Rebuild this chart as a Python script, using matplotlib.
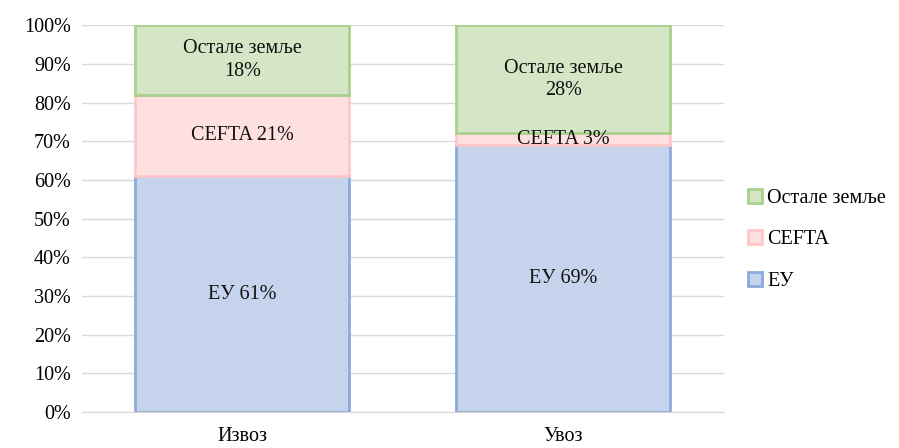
import matplotlib.pyplot as plt
import numpy as np

plt.rcParams['font.family'] = ['Liberation Serif', 'DejaVu Serif']

kategorije = ["Извоз", "Увоз"]
serije = ["ЕУ", "CEFTA", "Остале земље"]
eu = [61, 69]
cefta = [21, 3]
ostale = [18, 28]

etikete = [
    ["ЕУ 61%", "ЕУ 69%"],
    ["CEFTA 21%", "CEFTA 3%"],
    ["Остале земље\n18%", "Остале земље\n28%"],
]

boje = ["#C5D3EC", "#FFE0E0", "#D5E6C6"]
ivice = ["#8EA9DB", "#FFC7C7", "#A9D18E"]

fig = plt.figure(figsize=(8.99, 4.48), dpi=100)
ax = fig.add_axes([0.091, 0.080, 0.714, 0.864])

x = np.arange(len(kategorije))
dno = np.zeros(len(kategorije))
for i, vrednosti in enumerate([eu, cefta, ostale]):
    vr = np.array(vrednosti, dtype=float)
    ax.bar(x, vr, bottom=dno, width=0.667, color=boje[i], edgecolor=ivice[i],
           linewidth=2, label=serije[i], zorder=2)
    for j in range(len(x)):
        ax.text(x[j], dno[j] + vr[j] / 2, etikete[i][j], ha="center", va="center",
                fontsize=14.5, color="#111111", zorder=3, linespacing=1.25)
    dno += vr

ax.set_xlim(-0.5, 1.5)
ax.set_ylim(0, 100)
ax.set_yticks(range(0, 101, 10))
ax.set_yticklabels([f"{v}%" for v in range(0, 101, 10)], fontsize=14.5)
ax.set_xticks(x)
ax.set_xticklabels(kategorije, fontsize=14.5)
ax.tick_params(axis="both", length=0, pad=8)
ax.tick_params(axis="x", pad=11)
ax.grid(axis="y", color="#D9D9D9", linewidth=1, zorder=0)
for s in ["top", "right", "left"]:
    ax.spines[s].set_visible(False)
ax.spines["bottom"].set_color("#D9D9D9")

h, l = ax.get_legend_handles_labels()
ax.legend(h[::-1], l[::-1], loc="center left", bbox_to_anchor=(1.01, 0.445),
          frameon=False, fontsize=14.5, handlelength=0.7, handleheight=0.7,
          handletextpad=0.25, labelspacing=1.1)

fig.savefig("out.png", dpi=100)
